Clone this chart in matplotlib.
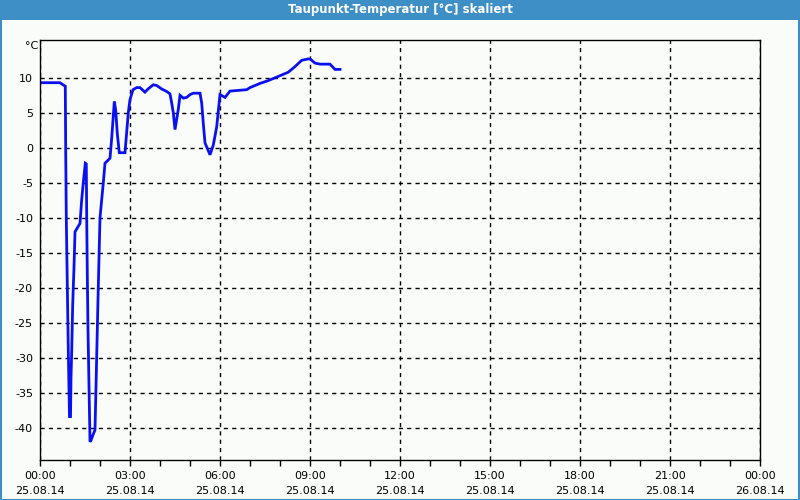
import matplotlib
matplotlib.use("Agg")
import matplotlib.pyplot as plt
from matplotlib.patches import Rectangle

title = "Taupunkt-Temperatur [°C] skaliert"
unit_label = "°C"

# time in hours since 25.08.14 00:00
hours = [0.0, 0.667, 0.767, 0.843, 0.857, 0.877, 0.91, 0.943, 0.983, 1.017,
         1.033, 1.057, 1.09, 1.133, 1.167, 1.333, 1.39, 1.443, 1.51, 1.543,
         1.557, 1.577, 1.6, 1.633, 1.667, 1.7, 1.767, 1.833, 1.867, 1.9,
         1.933, 1.967, 2.0, 2.057, 2.11, 2.167, 2.333, 2.39, 2.477, 2.523,
         2.577, 2.643, 2.833, 2.943, 3.0, 3.1, 3.223, 3.333, 3.5, 3.6,
         3.777, 3.89, 4.057, 4.223, 4.333, 4.39, 4.443, 4.5, 4.61, 4.667,
         4.777, 4.89, 5.0, 5.11, 5.333, 5.39, 5.443, 5.5, 5.667, 5.777,
         5.89, 6.0, 6.167, 6.333, 6.89, 7.0, 7.333, 7.61, 8.0, 8.277,
         8.5, 8.723, 8.943, 9.0, 9.167, 9.333, 9.667, 9.833, 10.0]
dewpoint = [9.3, 9.3, 9.0, 8.8, -0.5, -10.2, -19.6, -28.9, -38.4, -38.4,
            -32.9, -29.0, -22.4, -17.1, -12.0, -10.8, -7.4, -5.0, -2.2, -2.3,
            -10.0, -18.1, -26.0, -33.9, -42.0, -41.8, -41.0, -40.3, -34.1, -27.9,
            -21.7, -15.7, -10.0, -7.4, -5.0, -2.2, -1.5, 1.4, 6.6, 5.4,
            2.0, -0.7, -0.7, 5.0, 6.9, 8.3, 8.6, 8.6, 7.95, 8.4,
            9.0, 8.9, 8.4, 8.05, 7.7, 6.4, 5.0, 2.6, 5.5, 7.5,
            7.1, 7.2, 7.6, 7.8, 7.8, 6.4, 3.5, 0.7, -1.0, 0.4,
            3.0, 7.6, 7.2, 8.1, 8.3, 8.6, 9.2, 9.6, 10.3, 10.8,
            11.6, 12.5, 12.7, 12.7, 12.1, 11.95, 11.95, 11.2, 11.2]

xtick_hours = [0, 3, 6, 9, 12, 15, 18, 21, 24]
xtick_labels = ["00:00\n25.08.14", "03:00\n25.08.14", "06:00\n25.08.14",
                "09:00\n25.08.14", "12:00\n25.08.14", "15:00\n25.08.14",
                "18:00\n25.08.14", "21:00\n25.08.14", "00:00\n26.08.14"]
ytick_values = [10, 5, 0, -5, -10, -15, -20, -25, -30, -35, -40]

BLUE_BAR = "#3d8fc6"
BG = "#fafcfa"

fig = plt.figure(figsize=(8, 5), dpi=100, facecolor=BG)

# title bar and border
fig.patches.append(Rectangle((0, 1 - 20 / 500), 1, 20 / 500, transform=fig.transFigure,
                             facecolor=BLUE_BAR, edgecolor="none", zorder=0))
fig.patches.append(Rectangle((0.0008, 0.001), 0.9984, 0.998, transform=fig.transFigure,
                             facecolor="none", edgecolor=BLUE_BAR, linewidth=1.5, zorder=0))
fig.text(0.5, 1 - 10 / 500, title, color="white", fontsize=8.5, fontweight="bold",
         ha="center", va="center")

ax = fig.add_axes([40 / 800, 40 / 500, 720 / 800, 420 / 500])
ax.set_facecolor(BG)
ax.plot(hours, dewpoint, color="#0a10f0", linewidth=2, solid_joinstyle="miter")

ax.set_xlim(0, 24)
ax.set_ylim(-44.6, 15.4)
ax.set_xticks(xtick_hours)
ax.set_xticklabels(xtick_labels, fontsize=8, linespacing=1.6)
ax.set_xticks(range(0, 25), minor=True)
ax.set_yticks(ytick_values)
ax.set_yticklabels([str(v) for v in ytick_values], fontsize=8)

ax.tick_params(axis="x", which="both", direction="out", length=4, width=1, pad=4)
ax.tick_params(axis="y", which="both", length=0, pad=5)
ax.grid(True, which="major", color="black", linestyle=(0, (3, 3)), linewidth=1)
for s in ax.spines.values():
    s.set_color("black")
    s.set_linewidth(1)

fig.text(38 / 800, 1 - 46 / 500, unit_label, fontsize=8, ha="right", va="center")

fig.savefig("out.png", dpi=100, facecolor=BG)
